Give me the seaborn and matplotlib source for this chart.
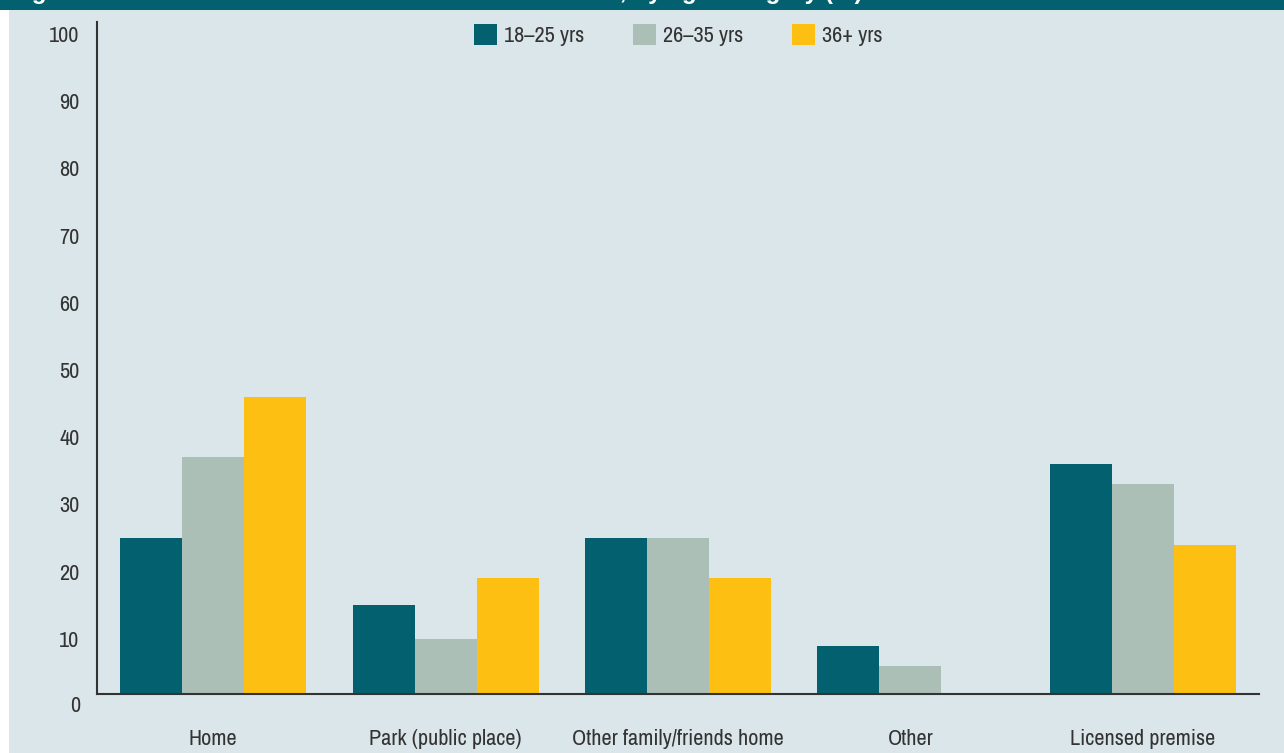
import pandas as pd
import matplotlib.pyplot as plt
import seaborn as sns
from matplotlib.patches import Rectangle
from matplotlib.transforms import ScaledTranslation, blended_transform_factory

# data
locations = ["Home", "Park (public place)", "Other family/friends home", "Other", "Licensed premise"]
age_groups = ["18\u201325 yrs", "26\u201335 yrs", "36+ yrs"]
pct_18_25 = [25, 15, 25, 9, 36]
pct_26_35 = [37, 10, 25, 6, 33]
pct_36_plus = [46, 19, 19, 0, 24]
y_ticks = [0, 10, 20, 30, 40, 50, 60, 70, 80, 90, 100]
title = "Figure 5: Location where alcohol was last consumed, by age category (%)"

colors = ["#02606f", "#abbfb7", "#fdbf12"]
panel_bg = "#dbe6ea"
text_col = "#333333"

df = pd.DataFrame({
    "location": locations * 3,
    "age": [a for a in age_groups for _ in locations],
    "pct": pct_18_25 + pct_26_35 + pct_36_plus,
})

sns.set_style("white")
plt.rcParams["font.family"] = ["Liberation Sans Narrow", "Archivo Narrow", "DejaVu Sans"]

W, H = 1284, 753
fig = plt.figure(figsize=(W / 100, H / 100), dpi=100)
fig.patch.set_facecolor(panel_bg)

# white strip on the left and the (cropped) title band on top
fig.patches.append(Rectangle((0, 0), 9 / W, 1, transform=fig.transFigure,
                             facecolor="white", edgecolor="none", zorder=-10))
fig.patches.append(Rectangle((0, 1 - 10 / H), 1, 10 / H, transform=fig.transFigure,
                             facecolor="#02606f", edgecolor="none", zorder=-9))
fig.text(10 / W, 1 + 1.5 / H, title, color="white", fontsize=17.5, fontweight="bold",
         va="baseline", ha="left", family=["Liberation Sans", "DejaVu Sans"])

ax = fig.add_axes([97 / W, 59 / H, 1162 / W, (694 - 22) / H])
ax.set_facecolor("none")

sns.barplot(data=df, x="location", y="pct", hue="age", hue_order=age_groups,
            palette=colors, saturation=1, width=0.8, ax=ax, errorbar=None,
            linewidth=0)

ax.set_xlim(-0.5, 4.5)
ax.set_ylim(1.8, 101.8)
ax.set_yticks(y_ticks[1:])
ax.set_yticklabels([str(t) for t in y_ticks[1:]])
ax.tick_params(axis="y", length=0, pad=12.5, labelsize=16, labelcolor=text_col)
ax.tick_params(axis="x", length=0, pad=25.5, labelsize=16, labelcolor=text_col)
ax.set_xlabel("")
ax.set_ylabel("")

# the "0" label sits below the drawn axis line in the original
trans = blended_transform_factory(ax.transAxes, ax.transData) + ScaledTranslation(-17 / 100, 0, fig.dpi_scale_trans)
ax.text(0, y_ticks[0], str(y_ticks[0]), transform=trans, ha="right", va="center",
        fontsize=16, color=text_col, clip_on=False)

for side in ["top", "right"]:
    ax.spines[side].set_visible(False)
for side in ["left", "bottom"]:
    ax.spines[side].set_color(text_col)
    ax.spines[side].set_linewidth(1.5)

ax.legend(loc="upper center", bbox_to_anchor=(0.5, 1.0), ncol=3, frameon=False,
          fontsize=16, handlelength=1.05, handleheight=1.05, handletextpad=0.3,
          columnspacing=2.2, borderaxespad=0, borderpad=0.1, labelcolor=text_col)

fig.savefig("out.png", dpi=100, facecolor=fig.get_facecolor())
